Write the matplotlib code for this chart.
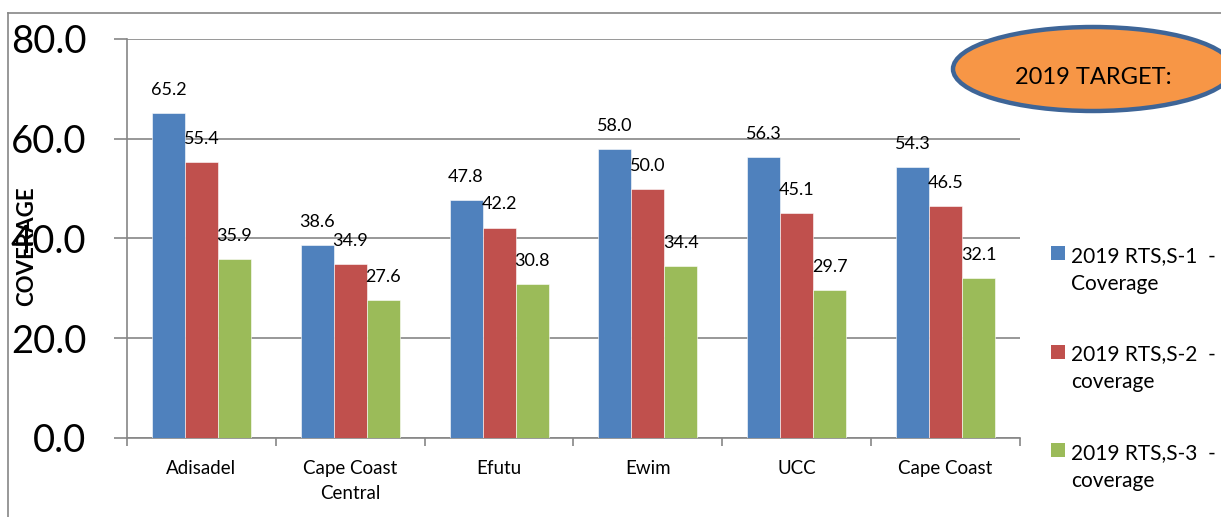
import matplotlib
matplotlib.use("Agg")
import numpy as np
import matplotlib.pyplot as plt
from matplotlib.patches import Ellipse, Rectangle
from matplotlib.lines import Line2D

plt.rcParams['font.family'] = ['Lato', 'DejaVu Sans']

# district coverage figures
districts = ["Adisadel", "Cape Coast\nCentral", "Efutu", "Ewim", "UCC", "Cape Coast"]
dose1 = [65.2, 38.6, 47.8, 58.0, 56.3, 54.3]
dose2 = [55.4, 34.9, 42.2, 50.0, 45.1, 46.5]
dose3 = [35.9, 27.6, 30.8, 34.4, 29.7, 32.1]
series_names = ["2019 RTS,S-1  -\nCoverage",
                "2019 RTS,S-2  -\ncoverage",
                "2019 RTS,S-3  -\ncoverage"]
colors = ["#4F81BD", "#C0504D", "#9BBB59"]
yticks = [0, 20, 40, 60, 80]

W, H = 1221, 517
fig = plt.figure(figsize=(W / 100, H / 100), dpi=100)
ax = fig.add_axes([127 / W, 1 - 438 / H, (1020 - 127) / W, (438 - 39) / H])

grey = "#868686"
x = np.arange(len(districts))
bw = 0.222
for i, (vals, c) in enumerate(zip([dose1, dose2, dose3], colors)):
    pos = x + (i - 1) * bw
    ax.bar(pos, vals, width=bw, color=c, edgecolor="white", linewidth=0.4, zorder=3)
    for px, v in zip(pos, vals):
        ax.annotate(f"{v:.1f}", (px, v), xytext=(0, 13), textcoords="offset points",
                    ha="center", va="baseline", fontsize=13, zorder=4)

ax.set_xlim(-0.5, len(districts) - 0.5)
ax.set_ylim(0, 80)
ax.set_yticks(yticks)
ax.set_yticklabels([f"{t:.1f}" for t in yticks], fontsize=27.5)
ax.yaxis.grid(True, color=grey, linewidth=1.2, zorder=0)
ax.tick_params(axis="y", direction="out", length=9.4, width=1.2, color=grey, pad=20)

ax.set_xticks(x)
ax.set_xticklabels(districts, fontsize=13.5, linespacing=1.55)
ax.set_xticks(np.arange(len(districts) + 1) - 0.5, minor=True)
ax.tick_params(axis="x", which="major", length=0, pad=16)
ax.tick_params(axis="x", which="minor", direction="out", length=5.8, width=1.2, color=grey)

for side in ("top", "right"):
    ax.spines[side].set_visible(False)
for side in ("left", "bottom"):
    ax.spines[side].set_color(grey)
    ax.spines[side].set_linewidth(1.2)

fig.text(27 / W, 1 - 246 / H, "COVERAGE", rotation=90, fontsize=16, fontweight="bold",
         ha="center", va="center")

# outer chart frame
fig.add_artist(Line2D([8 / W, 8 / W], [0, 1 - 13 / H], color=grey, linewidth=1.2))
fig.add_artist(Line2D([8 / W, 1], [1 - 13 / H, 1 - 13 / H], color=grey, linewidth=1.2))

# legend
for k, (name, c) in enumerate(zip(series_names, colors)):
    ty = 253 + k * 98.5
    fig.add_artist(Rectangle((1051 / W, 1 - (ty + 7) / H), 14 / W, 14 / H,
                             facecolor=c, edgecolor="none", transform=fig.transFigure))
    fig.text(1071 / W, 1 - (ty - 7) / H, name, fontsize=15, va="top", ha="left",
             linespacing=1.5)

# target callout
fig.add_artist(Ellipse((1093 / W, 1 - 69 / H), 280 / W, 84 / H, transform=fig.transFigure,
                       facecolor="#F79646", edgecolor="#3E6597", linewidth=3.2, zorder=5))
fig.text(1093 / W, 1 - 77 / H, "2019 TARGET:", fontsize=17, ha="center", va="center",
         zorder=6)

fig.savefig("out.png", dpi=100)
